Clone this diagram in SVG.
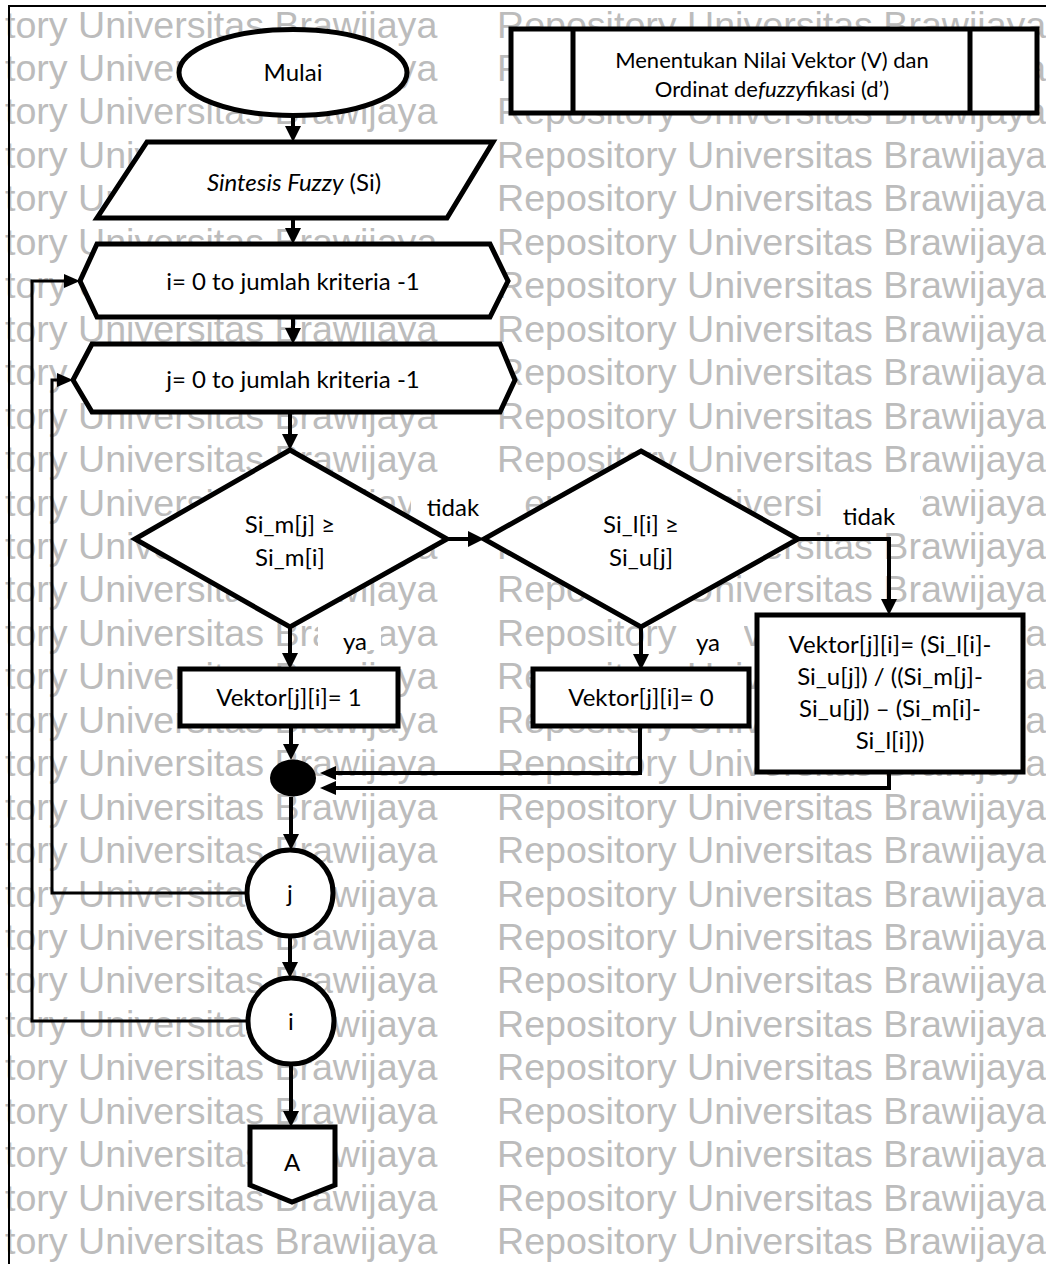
<svg xmlns="http://www.w3.org/2000/svg" width="1046" height="1264" viewBox="0 0 1046 1264">
<defs>
<style>
.wm{font-family:"Liberation Sans",Arial,sans-serif;font-size:37.6px;fill:#bcbcbc}
.nd{fill:#fff;stroke:#000;stroke-width:5;stroke-linejoin:miter}
.t{font-family:Lato,"Open Sans",sans-serif;font-size:24px;fill:#000;text-anchor:middle}
.th{font-family:Lato,"Open Sans",sans-serif;font-size:22px;fill:#000;text-anchor:middle}
.c{fill:none;stroke:#000;stroke-width:4}
.cl{fill:none;stroke:#000;stroke-width:3}
.lb{fill:#fff}
.fr{fill:none;stroke:#000;stroke-width:2}
</style>
<marker id="ah" viewBox="0 0 16 16" markerWidth="16" markerHeight="16" refX="3" refY="8" orient="auto" markerUnits="userSpaceOnUse"><path d="M0,0 L16,8 L0,16 z" fill="#000"/></marker>
<marker id="as" viewBox="0 0 16 14" markerWidth="16" markerHeight="14" refX="3" refY="7" orient="auto" markerUnits="userSpaceOnUse"><path d="M0,0 L16,7 L0,14 z" fill="#000"/></marker>
</defs>
<rect width="1046" height="1264" fill="#fff"/>
<g id="watermark" class="wm">
<text y="37.5"><tspan x="5">tory Universitas Brawijaya</tspan><tspan x="497">Repository Universitas Brawijaya</tspan></text>
<text y="81"><tspan x="5">tory Universitas Brawijaya</tspan><tspan x="497">Repository Universitas Brawijaya</tspan></text>
<text y="124.4"><tspan x="5">tory Universitas Brawijaya</tspan><tspan x="497">Repository Universitas Brawijaya</tspan></text>
<text y="167.9"><tspan x="5">tory Universitas Brawijaya</tspan><tspan x="497">Repository Universitas Brawijaya</tspan></text>
<text y="211.3"><tspan x="5">tory Universitas Brawijaya</tspan><tspan x="497">Repository Universitas Brawijaya</tspan></text>
<text y="254.8"><tspan x="5">tory Universitas Brawijaya</tspan><tspan x="497">Repository Universitas Brawijaya</tspan></text>
<text y="298.2"><tspan x="5">tory Universitas Brawijaya</tspan><tspan x="497">Repository Universitas Brawijaya</tspan></text>
<text y="341.7"><tspan x="5">tory Universitas Brawijaya</tspan><tspan x="497">Repository Universitas Brawijaya</tspan></text>
<text y="385.1"><tspan x="5">tory Universitas Brawijaya</tspan><tspan x="497">Repository Universitas Brawijaya</tspan></text>
<text y="428.6"><tspan x="5">tory Universitas Brawijaya</tspan><tspan x="497">Repository Universitas Brawijaya</tspan></text>
<text y="472"><tspan x="5">tory Universitas Brawijaya</tspan><tspan x="497">Repository Universitas Brawijaya</tspan></text>
<text y="515.5"><tspan x="5">tory Universitas Brawijaya</tspan><tspan x="497">Repository Universitas Brawijaya</tspan></text>
<text y="558.9"><tspan x="5">tory Universitas Brawijaya</tspan><tspan x="497">Repository Universitas Brawijaya</tspan></text>
<text y="602.4"><tspan x="5">tory Universitas Brawijaya</tspan><tspan x="497">Repository Universitas Brawijaya</tspan></text>
<text y="645.8"><tspan x="5">tory Universitas Brawijaya</tspan><tspan x="497">Repository Universitas Brawijaya</tspan></text>
<text y="689.3"><tspan x="5">tory Universitas Brawijaya</tspan><tspan x="497">Repository Universitas Brawijaya</tspan></text>
<text y="732.7"><tspan x="5">tory Universitas Brawijaya</tspan><tspan x="497">Repository Universitas Brawijaya</tspan></text>
<text y="776.2"><tspan x="5">tory Universitas Brawijaya</tspan><tspan x="497">Repository Universitas Brawijaya</tspan></text>
<text y="819.6"><tspan x="5">tory Universitas Brawijaya</tspan><tspan x="497">Repository Universitas Brawijaya</tspan></text>
<text y="863.1"><tspan x="5">tory Universitas Brawijaya</tspan><tspan x="497">Repository Universitas Brawijaya</tspan></text>
<text y="906.5"><tspan x="5">tory Universitas Brawijaya</tspan><tspan x="497">Repository Universitas Brawijaya</tspan></text>
<text y="950"><tspan x="5">tory Universitas Brawijaya</tspan><tspan x="497">Repository Universitas Brawijaya</tspan></text>
<text y="993.4"><tspan x="5">tory Universitas Brawijaya</tspan><tspan x="497">Repository Universitas Brawijaya</tspan></text>
<text y="1036.9"><tspan x="5">tory Universitas Brawijaya</tspan><tspan x="497">Repository Universitas Brawijaya</tspan></text>
<text y="1080.3"><tspan x="5">tory Universitas Brawijaya</tspan><tspan x="497">Repository Universitas Brawijaya</tspan></text>
<text y="1123.8"><tspan x="5">tory Universitas Brawijaya</tspan><tspan x="497">Repository Universitas Brawijaya</tspan></text>
<text y="1167.2"><tspan x="5">tory Universitas Brawijaya</tspan><tspan x="497">Repository Universitas Brawijaya</tspan></text>
<text y="1210.7"><tspan x="5">tory Universitas Brawijaya</tspan><tspan x="497">Repository Universitas Brawijaya</tspan></text>
<text y="1254.1"><tspan x="5">tory Universitas Brawijaya</tspan><tspan x="497">Repository Universitas Brawijaya</tspan></text>
</g>
<path class="fr" d="M9,1264 V6 H1046"/>
<g id="connectors">
<path class="c" marker-end="url(#ah)" d="M293,116 V129"/>
<path class="c" marker-end="url(#ah)" d="M293,218 V231"/>
<path class="c" marker-end="url(#ah)" d="M293,317 V331"/>
<path class="c" marker-end="url(#ah)" d="M290,412 V437"/>
<path class="c" marker-end="url(#ah)" d="M447,539 H471"/>
<path class="c" marker-end="url(#ah)" d="M290,627 V656"/>
<path class="c" marker-end="url(#ah)" d="M798,539 H889 V602"/>
<path class="c" marker-end="url(#ah)" d="M641,627 V657"/>
<path class="c" marker-end="url(#ah)" d="M291,727 V747"/>
<path class="c" marker-end="url(#as)" d="M640,726 V773 H333"/>
<path class="c" marker-end="url(#as)" d="M889,772 V788 H333"/>
<path class="c" marker-end="url(#ah)" d="M291,797 V837"/>
<path class="c" marker-end="url(#ah)" d="M290,936 V965"/>
<path class="c" marker-end="url(#ah)" d="M291,1064 V1114"/>
<path class="cl" marker-end="url(#as)" d="M247,893 H52 V380 H60"/>
<path class="cl" marker-end="url(#as)" d="M248,1021 H32 V281 H67"/>
<g id="labels">
<rect class="lb" x="411" y="477" width="112" height="41"/>
<text class="t" x="453" y="516">tidak</text>
<rect class="lb" x="823" y="477" width="97" height="43"/>
<text class="t" x="869" y="525">tidak</text>
<rect class="lb" x="318" y="606" width="63" height="44"/>
<text class="t" x="355" y="650">ya</text>
<rect class="lb" x="680" y="606" width="64" height="44"/>
<text class="t" x="708" y="651">ya</text>
</g>
</g>
<g id="mulai"><ellipse class="nd" cx="293" cy="72.5" rx="114" ry="43"/><text class="t" x="293" y="81">Mulai</text></g>
<g id="sintesis"><polygon class="nd" points="147,142 493,142 447,218 97,218"/><text class="t" x="294" y="191"><tspan font-style="italic">Sintesis Fuzzy</tspan> (Si)</text></g>
<g id="loop-i"><polygon class="nd" points="97,244 490,244 508,281 490,317 97,317 80,281"/><text class="t" x="293" y="290">i= 0 to jumlah kriteria -1</text></g>
<g id="loop-j"><polygon class="nd" points="92,344 500,344 515,380 500,412 92,412 73,380"/><text class="t" x="293" y="388">j= 0 to jumlah kriteria -1</text></g>
<g id="cond1"><polygon class="nd" points="290,450 447,539 290,627 135,539"/><text class="t" x="290" y="533">Si_m[j] ≥</text><text class="t" x="290" y="566">Si_m[i]</text></g>
<g id="cond2"><polygon class="nd" points="641,451 798,539 641,627 484,539"/><text class="t" x="641" y="533">Si_l[i] ≥</text><text class="t" x="641" y="566">Si_u[j]</text></g>
<g id="vektor1"><rect class="nd" x="180" y="669" width="218" height="57"/><text class="t" x="289" y="706">Vektor[j][i]= 1</text></g>
<g id="vektor0"><rect class="nd" x="533" y="669" width="216" height="57"/><text class="t" x="641" y="706">Vektor[j][i]= 0</text></g>
<g id="vektor-rumus"><rect class="nd" x="757" y="615" width="266" height="157"/>
<text class="t" x="890" y="653">Vektor[j][i]= (Si_l[i]-</text>
<text class="t" x="890" y="685">Si_u[j]) / ((Si_m[j]-</text>
<text class="t" x="890" y="717">Si_u[j]) – (Si_m[i]-</text>
<text class="t" x="890" y="749">Si_l[i]))</text></g>
<g id="merge"><ellipse cx="293" cy="778" rx="23" ry="18.5" fill="#000"/></g>
<g id="end-j"><circle class="nd" cx="290" cy="893" r="43"/><text class="t" x="290" y="902">j</text></g>
<g id="end-i"><circle class="nd" cx="291" cy="1021" r="43"/><text class="t" x="291" y="1030">i</text></g>
<g id="connector-a"><polygon class="nd" points="250,1127 335,1127 335,1185 292,1202 250,1185"/><text class="t" x="292" y="1171">A</text></g>
<g id="title"><rect class="nd" x="511" y="29" width="526" height="84"/><path d="M573,29 V113 M970,29 V113" stroke="#000" stroke-width="5"/>
<text class="th" x="772" y="68">Menentukan Nilai Vektor (V) dan</text>
<text class="th" x="772" y="97">Ordinat de<tspan font-style="italic">fuzzy</tspan>fikasi (d’)</text></g>
</svg>
